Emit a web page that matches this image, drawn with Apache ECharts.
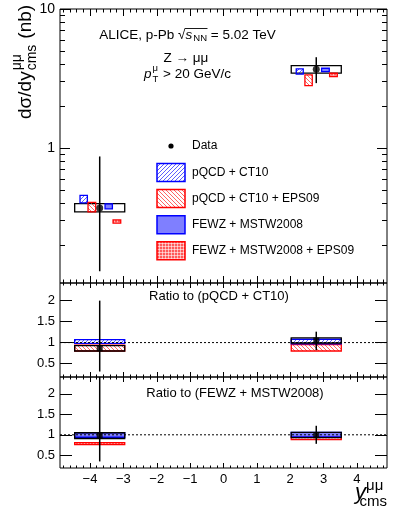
<!DOCTYPE html>
<html>
<head>
<meta charset="utf-8">
<script src="https://cdn.jsdelivr.net/npm/echarts@6.0.0/dist/echarts.min.js"></script>
<style>
html, body { margin: 0; padding: 0; background: #fff; }
#echart { width: 399px; height: 517px; }
</style>
</head>
<body>
<div id="echart"></div>
<script>
// rapidity bins
var binLo = [-4.46, 2.03];
var binHi = [-2.96, 3.53];
var binMid = [-3.71, 2.78];

// data, main panel (nb)
var dataVal = [0.371, 3.69];
var dataStatLo = [0.13, 2.93];
var dataStatHi = [0.87, 4.50];
var dataSysLo = [0.347, 3.46];
var dataSysHi = [0.398, 3.92];

// models, main panel (each drawn slightly shifted inside the bin)
var ct10XLo = [-4.30, 2.18], ct10XHi = [-4.08, 2.39];
var ct10Lo = [0.403, 3.40], ct10Hi = [0.457, 3.71];
var epsXLo = [-4.06, 2.44], epsXHi = [-3.83, 2.66];
var epsLo = [0.347, 2.81], epsHi = [0.407, 3.36];
var fewzXLo = [-3.55, 2.94], fewzXHi = [-3.33, 3.17];
var fewzLo = [0.365, 3.55], fewzHi = [0.397, 3.75];
var fewzEpsXLo = [-3.31, 3.18], fewzEpsXHi = [-3.08, 3.41];
var fewzEpsLo = [0.288, 3.27], fewzEpsHi = [0.304, 3.45];

// ratio to pQCD + CT10
var r1Val = [0.865, 1.05];
var r1StatLo = [0.31, 0.82], r1StatHi = [2.0, 1.26];
var r1SysLo = [0.80, 0.99], r1SysHi = [0.93, 1.11];
var r1Ct10Lo = [0.98, 0.97], r1Ct10Hi = [1.07, 1.08];
var r1EpsLo = [0.80, 0.80], r1EpsHi = [0.94, 0.95];

// ratio to FEWZ + MSTW2008
var r2Val = [0.98, 0.99];
var r2StatLo = [0.35, 0.78], r2StatHi = [2.6, 1.22];
var r2SysLo = [0.91, 0.93], r2SysHi = [1.05, 1.06];
var r2FewzLo = [0.94, 0.95], r2FewzHi = [1.05, 1.06];
var r2EpsLo = [0.76, 0.88], r2EpsHi = [0.81, 0.94];

// axes
var xTicks = [-4, -3, -2, -1, 0, 1, 2, 3, 4];
var mainYTicks = [1, 10];
var mainYMinor = [0.2, 0.3, 0.4, 0.5, 0.6, 0.7, 0.8, 0.9, 2, 3, 4, 5, 6, 7, 8, 9];
var ratioYTicks = [0.5, 1, 1.5, 2];
var xMinor = [];
for (var k = -24; k <= 24; k++) {
    if (k % 5 !== 0) xMinor.push(Math.round(k * 20) / 100);
}

var F = '"Liberation Sans", Arial, sans-serif';
var XMIN = -4.9, XMAX = 4.9;

var dom = document.getElementById('echart');
var myChart = echarts.init(dom);

// fill patterns
function pattern(draw, w, h) {
    var c = document.createElement('canvas');
    c.width = w; c.height = h;
    draw(c.getContext('2d'));
    return {type: 'pattern', image: c, repeat: 'repeat'};
}
var hatchBlue = pattern(function (g) {
    g.strokeStyle = 'rgba(30,30,255,0.9)';
    g.lineWidth = 0.8;
    g.beginPath();
    g.moveTo(-1, 5); g.lineTo(5, -1);
    g.moveTo(-1, 1); g.lineTo(1, -1);
    g.moveTo(3, 5); g.lineTo(5, 3);
    g.stroke();
}, 4, 4);
var hatchRed = pattern(function (g) {
    g.strokeStyle = 'rgba(255,40,40,0.9)';
    g.lineWidth = 0.8;
    g.beginPath();
    g.moveTo(-1, -1); g.lineTo(5, 5);
    g.moveTo(3, -1); g.lineTo(5, 1);
    g.moveTo(-1, 3); g.lineTo(1, 5);
    g.stroke();
}, 4, 4);
var crossRed = pattern(function (g) {
    g.fillStyle = 'rgba(255,60,60,0.85)';
    g.fillRect(0, 0, 3, 3);
    g.fillStyle = 'rgba(255,255,255,0.55)';
    g.fillRect(0, 0, 3, 1);
    g.fillRect(0, 0, 1, 3);
}, 3, 3);
var fillBlue = 'rgba(0,0,255,0.5)';

var styleData = {fill: 'none', stroke: '#000', lineWidth: 1.3};
var styleCt10 = {fill: hatchBlue, stroke: '#0000ff', lineWidth: 1.3};
var styleEps = {fill: hatchRed, stroke: '#ff0000', lineWidth: 1.3};
var styleFewz = {fill: fillBlue, stroke: '#0000ff', lineWidth: 1.3};
var styleFewzEps = {fill: crossRed, stroke: '#ff0000', lineWidth: 1.3};

// grids: main, ratio 1, ratio 2
var grids = [
    {left: 60, width: 327, top: 9, height: 274},
    {left: 60, width: 327, top: 283, height: 94},
    {left: 60, width: 327, top: 377, height: 91}
];
grids.forEach(function (g) {
    g.show = true; g.borderColor = '#000'; g.borderWidth = 1; g.backgroundColor = 'transparent';
    g.containLabel = false;
});
var majLen = [7, 5, 5], minLen = [3.5, 2.5, 2.5];

function fmtX(v) {
    return v < 0 ? '\u2212' + Math.abs(v) : String(v);
}

function xAx(gi, pos, vals, len, labels) {
    return {
        type: 'value', gridIndex: gi, position: pos, min: XMIN, max: XMAX,
        axisLine: {show: false, onZero: false}, splitLine: {show: false},
        axisTick: {show: true, inside: true, length: len, customValues: vals, lineStyle: {color: '#000', width: 1}},
        axisLabel: labels ? {show: true, customValues: xTicks, formatter: fmtX, color: '#000',
            fontSize: 13, fontFamily: F, margin: 5} : {show: false}
    };
}
function yAx(gi, pos, type, vals, len, labels, min, max, fs) {
    var a = {
        type: type, gridIndex: gi, position: pos, min: min, max: max,
        axisLine: {show: false, onZero: false}, splitLine: {show: false},
        axisTick: {show: true, inside: true, length: len, customValues: vals, lineStyle: {color: '#000', width: 1}},
        axisLabel: labels ? {show: true, customValues: vals, color: '#000', fontSize: fs, fontFamily: F, margin: 5,
            formatter: function (v) { return String(Math.round(v * 1000) / 1000); }} : {show: false}
    };
    if (type === 'log') a.logBase = 10;
    return a;
}

var xAxes = [];
for (var gi = 0; gi < 3; gi++) {
    xAxes.push(xAx(gi, 'bottom', xTicks, majLen[gi], gi === 2));
    xAxes.push(xAx(gi, 'bottom', xMinor, minLen[gi], false));
    xAxes.push(xAx(gi, 'top', xTicks, majLen[gi], false));
    xAxes.push(xAx(gi, 'top', xMinor, minLen[gi], false));
}
var yAxes = [
    yAx(0, 'left', 'log', mainYTicks, 10, true, 0.107, 10, 14),
    yAx(0, 'left', 'log', mainYMinor, 5, false, 0.107, 10),
    yAx(0, 'right', 'log', mainYTicks, 10, false, 0.107, 10),
    yAx(0, 'right', 'log', mainYMinor, 5, false, 0.107, 10),
    yAx(1, 'left', 'value', ratioYTicks, 12, true, 0.18, 2.42, 13),
    yAx(1, 'right', 'value', ratioYTicks, 12, false, 0.18, 2.42),
    yAx(2, 'left', 'value', ratioYTicks, 12, true, 0.19, 2.41, 13),
    yAx(2, 'right', 'value', ratioYTicks, 12, false, 0.19, 2.41)
];
var yIdx = [0, 4, 6];

// series builders
function boxes(gi, xLo, xHi, yLo, yHi, style) {
    var d = [];
    for (var i = 0; i < xLo.length; i++) d.push([xLo[i], xHi[i], yLo[i], yHi[i]]);
    return {
        type: 'custom', xAxisIndex: gi * 4, yAxisIndex: yIdx[gi], data: d, silent: true,
        encode: {x: [0, 1], y: [2, 3]},
        renderItem: function (params, api) {
            var a = api.coord([api.value(0), api.value(2)]);
            var b = api.coord([api.value(1), api.value(3)]);
            return {
                type: 'rect',
                shape: {x: Math.min(a[0], b[0]), y: Math.min(a[1], b[1]),
                    width: Math.abs(b[0] - a[0]), height: Math.abs(b[1] - a[1])},
                style: style
            };
        }
    };
}
function errBars(gi, xs, lo, hi) {
    var d = [];
    for (var i = 0; i < xs.length; i++) d.push([xs[i], lo[i], hi[i]]);
    return {
        type: 'custom', xAxisIndex: gi * 4, yAxisIndex: yIdx[gi], data: d, silent: true,
        encode: {x: 0, y: [1, 2]},
        renderItem: function (params, api) {
            var cs = params.coordSys;
            var a = api.coord([api.value(0), api.value(1)]);
            var b = api.coord([api.value(0), api.value(2)]);
            var y1 = Math.min(Math.max(a[1], cs.y), cs.y + cs.height);
            var y2 = Math.min(Math.max(b[1], cs.y), cs.y + cs.height);
            return {type: 'line', shape: {x1: a[0], y1: y1, x2: b[0], y2: y2},
                style: {stroke: '#000', lineWidth: 1.5}};
        }
    };
}
function points(gi, xs, ys, symbol, size) {
    var d = [];
    for (var i = 0; i < xs.length; i++) d.push([xs[i], ys[i]]);
    return {type: 'scatter', xAxisIndex: gi * 4, yAxisIndex: yIdx[gi], data: d, symbol: symbol,
        symbolSize: size, itemStyle: {color: '#000'}, silent: true};
}
function unityLine(gi) {
    return {type: 'line', xAxisIndex: gi * 4, yAxisIndex: yIdx[gi], data: [[XMIN, 1], [XMAX, 1]],
        showSymbol: false, silent: true, lineStyle: {color: '#000', width: 1, type: [2, 2]}};
}

var series = [
    // main panel
    boxes(0, binLo, binHi, dataSysLo, dataSysHi, styleData),
    boxes(0, ct10XLo, ct10XHi, ct10Lo, ct10Hi, styleCt10),
    boxes(0, epsXLo, epsXHi, epsLo, epsHi, styleEps),
    boxes(0, fewzXLo, fewzXHi, fewzLo, fewzHi, styleFewz),
    boxes(0, fewzEpsXLo, fewzEpsXHi, fewzEpsLo, fewzEpsHi, styleFewzEps),
    errBars(0, binMid, dataStatLo, dataStatHi),
    points(0, binMid, dataVal, 'circle', 7),
    // ratio to pQCD + CT10
    unityLine(1),
    boxes(1, binLo, binHi, r1EpsLo, r1EpsHi, styleEps),
    boxes(1, binLo, binHi, r1Ct10Lo, r1Ct10Hi, styleCt10),
    boxes(1, binLo, binHi, r1SysLo, r1SysHi, styleData),
    errBars(1, binMid, r1StatLo, r1StatHi),
    points(1, binMid, r1Val, 'rect', 6),
    // ratio to FEWZ + MSTW2008
    unityLine(2),
    boxes(2, binLo, binHi, r2EpsLo, r2EpsHi, styleFewzEps),
    boxes(2, binLo, binHi, r2FewzLo, r2FewzHi, styleFewz),
    boxes(2, binLo, binHi, r2SysLo, r2SysHi, styleData),
    errBars(2, binMid, r2StatLo, r2StatHi),
    points(2, binMid, r2Val, 'rect', 6)
];

// text helpers
var mctx = document.createElement('canvas').getContext('2d');
function tw(s, size, st) {
    mctx.font = (st || 'normal') + ' ' + size + 'px "Liberation Sans"';
    return mctx.measureText(s).width;
}
function txt(s, x, y, size, opt) {
    opt = opt || {};
    return {type: 'text', x: x, y: y, silent: true, style: {
        text: s, fill: '#000', fontSize: size, fontFamily: F, fontStyle: opt.it ? 'italic' : 'normal',
        align: opt.align || 'left', verticalAlign: 'middle'}};
}

var graphics = [];

// line 1: ALICE, p-Pb sqrt(s_NN) = 5.02 TeV
(function () {
    var y = 35, fs = 13.5, ss = 9.5;
    var w = [tw('ALICE, p-Pb ', fs), tw('\u221A', fs), tw('s', fs, 'italic') + 1, tw('NN', ss), tw(' = 5.02 TeV', fs)];
    var tot = w.reduce(function (a, b) { return a + b; }, 0);
    var x = 187.5 - tot / 2;
    graphics.push(txt('ALICE, p-Pb ', x, y, fs)); x += w[0];
    graphics.push(txt('\u221A', x, y, fs)); x += w[1];
    var barX = x;
    graphics.push(txt('s', x, y, fs, {it: true})); x += w[2];
    graphics.push(txt('NN', x, y + 3.5, ss)); x += w[3];
    graphics.push({type: 'line', silent: true, shape: {x1: barX - 0.5, y1: 28.5, x2: x + 0.5, y2: 28.5},
        style: {stroke: '#000', lineWidth: 0.9}});
    graphics.push(txt(' = 5.02 TeV', x, y, fs));
})();
graphics.push(txt('Z \u2192 \u03BC\u03BC', 186, 58, 13.5, {align: 'center'}));
// line 3: p_T^mu > 20 GeV/c
(function () {
    var y = 74, fs = 13.5, ss = 9.5;
    var w = [tw('p', fs, 'italic') + 1, Math.max(tw('\u03BC', ss), tw('T', ss)) + 1, tw(' > 20 GeV/c', fs)];
    var x = 187.5 - (w[0] + w[1] + w[2]) / 2;
    graphics.push(txt('p', x, y, fs, {it: true})); x += w[0];
    graphics.push(txt('\u03BC', x, y - 6, ss));
    graphics.push(txt('T', x, y + 5, ss)); x += w[1];
    graphics.push(txt(' > 20 GeV/c', x, y, fs));
})();

// legend
var legY = [172.5, 198.5, 224.8, 250.8];
var legName = ['pQCD + CT10', 'pQCD + CT10 + EPS09', 'FEWZ + MSTW2008', 'FEWZ + MSTW2008 + EPS09'];
var legStyle = [styleCt10, styleEps, styleFewz, styleFewzEps];
graphics.push({type: 'circle', silent: true, shape: {cx: 171, cy: 146, r: 2.6}, style: {fill: '#000'}});
graphics.push(txt('Data', 192, 146, 12));
for (var i = 0; i < legY.length; i++) {
    graphics.push({type: 'rect', silent: true, shape: {x: 157, y: legY[i] - 9, width: 28, height: 18},
        style: {fill: legStyle[i].fill, stroke: legStyle[i].stroke, lineWidth: 1.5}});
    graphics.push(txt(legName[i], 192, legY[i], 12));
}

// panel labels
graphics.push(txt('Ratio to (pQCD + CT10)', 219, 296, 13, {align: 'center'}));
graphics.push(txt('Ratio to (FEWZ + MSTW2008)', 235, 393, 13, {align: 'center'}));

// y axis title (rotated)
(function () {
    var fs = 19, ss = 14;
    var w1 = tw('d\u03C3/dy', fs), w2 = tw('cms', ss);
    graphics.push({type: 'group', x: 0, y: 119, rotation: Math.PI / 2, silent: true, children: [
        txt('d\u03C3/dy', 0, 26, fs),
        txt('\u03BC\u03BC', w1 + 1, 17, ss),
        txt('cms', w1 + 1, 32, ss),
        txt('(nb)', w1 + w2 + 7, 26, fs)
    ]});
})();

// x axis title
graphics.push(txt('y', 366, 493, 22, {it: true, align: 'right'}));
graphics.push(txt('\u03BC\u03BC', 366, 486, 15));
graphics.push(txt('cms', 387, 502, 15, {align: 'right'}));

var option = {
    animation: false,
    backgroundColor: '#fff',
    grid: grids,
    xAxis: xAxes,
    yAxis: yAxes,
    series: series,
    graphic: graphics
};
myChart.setOption(option);
</script>
</body>
</html>
